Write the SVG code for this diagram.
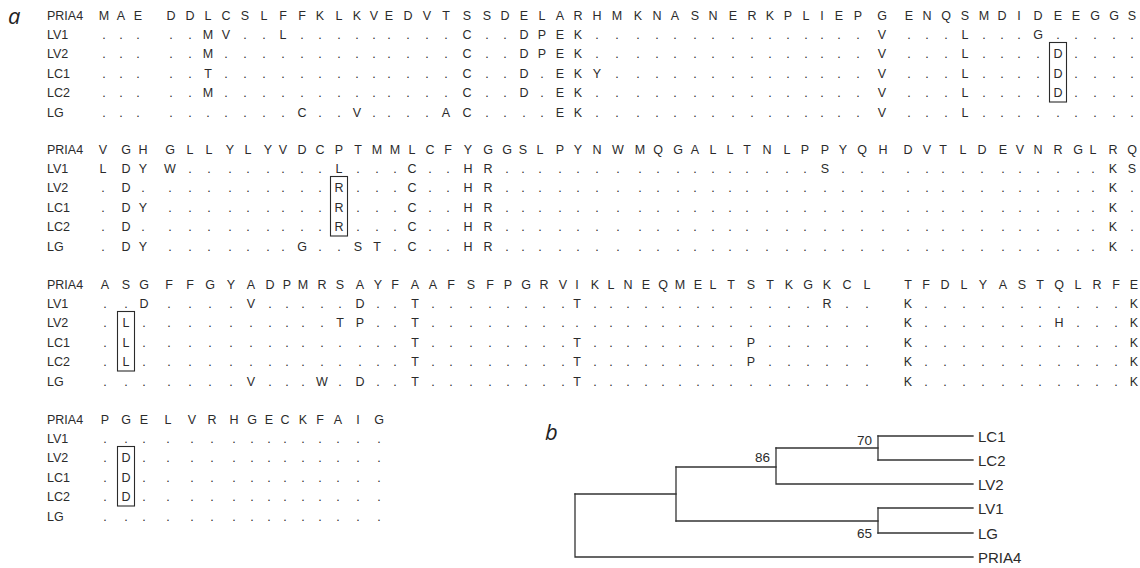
<svg xmlns="http://www.w3.org/2000/svg" width="1140" height="568" viewBox="0 0 1140 568">
<style>
.seq{font-family:"Liberation Sans",Arial,sans-serif;font-size:12.5px;fill:#2b2b2b;text-anchor:middle}
.lbl{font-family:"Liberation Sans",Arial,sans-serif;font-size:12.5px;fill:#2b2b2b}
.box{fill:none;stroke:#2b2b2b;stroke-width:1.1}
.blk{opacity:0.995}
.panel{font-family:"Open Sans","Noto Sans",sans-serif;font-style:italic;font-size:22px;fill:#222}
.tree{stroke:#333;stroke-width:1.3;fill:none;stroke-linecap:square}
.leaf{font-family:"Liberation Sans",Arial,sans-serif;font-size:15px;fill:#2b2b2b}
.bs{font-family:"Liberation Sans",Arial,sans-serif;font-size:13.5px;fill:#2b2b2b;text-anchor:end}
</style>
<text class="panel" x="8" y="24">a</text>
<g id="block1" class="blk">
<text class="lbl" x="47" y="19.5">PRIA4</text>
<text class="lbl" x="47" y="38.5">LV1</text>
<text class="lbl" x="47" y="58">LV2</text>
<text class="lbl" x="47" y="77.5">LC1</text>
<text class="lbl" x="47" y="96.5">LC2</text>
<text class="lbl" x="47" y="116.5">LG</text>
<text class="seq" y="19.5" x="104 121 138 171 190 208 226 245 264 283 302 320 339 357 374 389 408 427 446 467 487 505 524 542 560 578 597 617 638 657 675 695 713 733 752 770 788 806 822 839 858 882 909 927 946 965 984 1002 1019 1038 1058 1076 1095 1114 1132">MAEDDLCSLFFKLKVEDVTSSDELARHMKNASNERKPLIEPGENQSMDIDEEGGS</text>
<text class="seq" y="38.5" x="104 121 138 171 190 208 226 245 264 283 302 320 339 357 374 389 408 427 446 467 487 505 524 542 560 578 597 617 638 657 675 695 713 733 752 770 788 806 822 839 858 882 909 927 946 965 984 1002 1019 1038 1058 1076 1095 1114 1132">.....MV..L.........C..DPEK...............V...L...G.....</text>
<text class="seq" y="58" x="104 121 138 171 190 208 226 245 264 283 302 320 339 357 374 389 408 427 446 467 487 505 524 542 560 578 597 617 638 657 675 695 713 733 752 770 788 806 822 839 858 882 909 927 946 965 984 1002 1019 1038 1058 1076 1095 1114 1132">.....M.............C..DPEK...............V...L....D....</text>
<text class="seq" y="77.5" x="104 121 138 171 190 208 226 245 264 283 302 320 339 357 374 389 408 427 446 467 487 505 524 542 560 578 597 617 638 657 675 695 713 733 752 770 788 806 822 839 858 882 909 927 946 965 984 1002 1019 1038 1058 1076 1095 1114 1132">.....T.............C..D.EKY..............V...L....D....</text>
<text class="seq" y="96.5" x="104 121 138 171 190 208 226 245 264 283 302 320 339 357 374 389 408 427 446 467 487 505 524 542 560 578 597 617 638 657 675 695 713 733 752 770 788 806 822 839 858 882 909 927 946 965 984 1002 1019 1038 1058 1076 1095 1114 1132">.....M.............C..D.EK...............V...L....D....</text>
<text class="seq" y="116.5" x="104 121 138 171 190 208 226 245 264 283 302 320 339 357 374 389 408 427 446 467 487 505 524 542 560 578 597 617 638 657 675 695 713 733 752 770 788 806 822 839 858 882 909 927 946 965 984 1002 1019 1038 1058 1076 1095 1114 1132">..........C..V....AC....EK...............V...L.........</text>
<rect class="box" x="1049.5" y="42.5" width="17" height="59.5"/>
</g>
<g id="block2" class="blk">
<text class="lbl" x="47" y="153.5">PRIA4</text>
<text class="lbl" x="47" y="172.5">LV1</text>
<text class="lbl" x="47" y="192">LV2</text>
<text class="lbl" x="47" y="211.5">LC1</text>
<text class="lbl" x="47" y="230.5">LC2</text>
<text class="lbl" x="47" y="250.5">LG</text>
<text class="seq" y="153.5" x="103 126 143 170 190 209 230 248 268 283 302 320 339 358 377 395 412 430 448 468 488 507 523 540 560 578 597 618 640 658 678 695 713 730 747 767 787 805 825 843 862 883 908 927 943 963 982 1003 1020 1038 1058 1078 1093 1113 1132">VGHGLLYLYVDCPTMMLCFYGGSLPYNWMQGALLTNLPPYQHDVTLDEVNRGLRQ</text>
<text class="seq" y="172.5" x="103 126 143 170 190 209 230 248 268 283 302 320 339 358 377 395 412 430 448 468 488 507 523 540 560 578 597 618 640 658 678 695 713 730 747 767 787 805 825 843 862 883 908 927 943 963 982 1003 1020 1038 1058 1078 1093 1113 1132">LDYW........L...C..HR.................S..............KS</text>
<text class="seq" y="192" x="103 126 143 170 190 209 230 248 268 283 302 320 339 358 377 395 412 430 448 468 488 507 523 540 560 578 597 618 640 658 678 695 713 730 747 767 787 805 825 843 862 883 908 927 943 963 982 1003 1020 1038 1058 1078 1093 1113 1132">.D..........R...C..HR................................K.</text>
<text class="seq" y="211.5" x="103 126 143 170 190 209 230 248 268 283 302 320 339 358 377 395 412 430 448 468 488 507 523 540 560 578 597 618 640 658 678 695 713 730 747 767 787 805 825 843 862 883 908 927 943 963 982 1003 1020 1038 1058 1078 1093 1113 1132">.DY.........R...C..HR................................K.</text>
<text class="seq" y="230.5" x="103 126 143 170 190 209 230 248 268 283 302 320 339 358 377 395 412 430 448 468 488 507 523 540 560 578 597 618 640 658 678 695 713 730 747 767 787 805 825 843 862 883 908 927 943 963 982 1003 1020 1038 1058 1078 1093 1113 1132">.D..........R...C..HR................................K.</text>
<text class="seq" y="250.5" x="103 126 143 170 190 209 230 248 268 283 302 320 339 358 377 395 412 430 448 468 488 507 523 540 560 578 597 618 640 658 678 695 713 730 747 767 787 805 825 843 862 883 908 927 943 963 982 1003 1020 1038 1058 1078 1093 1113 1132">.DY.......G..ST.C..HR................................K.</text>
<rect class="box" x="330.5" y="176.5" width="17" height="59.5"/>
</g>
<g id="block3" class="blk">
<text class="lbl" x="47" y="288.5">PRIA4</text>
<text class="lbl" x="47" y="307.5">LV1</text>
<text class="lbl" x="47" y="327">LV2</text>
<text class="lbl" x="47" y="346.5">LC1</text>
<text class="lbl" x="47" y="365.5">LC2</text>
<text class="lbl" x="47" y="385.5">LG</text>
<text class="seq" y="288.5" x="105 126 144 169 190 210 231 251 270 287 303 322 340 360 378 395 415 433 451 471 490 508 526 544 563 577 595 611 628 646 663 680 698 713 731 751 770 789 808 827 847 867 908 926 945 964 983 1003 1022 1040 1059 1078 1097 1116 1134">ASGFFGYADPMRSAYFAAFSFPGRVIKLNEQMELTSTKGKCLTFDLYASTQLRFE</text>
<text class="seq" y="307.5" x="105 126 144 169 190 210 231 251 270 287 303 322 340 360 378 395 415 433 451 471 490 508 526 544 563 577 595 611 628 646 663 680 698 713 731 751 770 789 808 827 847 867 908 926 945 964 983 1003 1022 1040 1059 1078 1097 1116 1134">..D....V.....D..T........T.............R..K...........K</text>
<text class="seq" y="327" x="105 126 144 169 190 210 231 251 270 287 303 322 340 360 378 395 415 433 451 471 490 508 526 544 563 577 595 611 628 646 663 680 698 713 731 751 770 789 808 827 847 867 908 926 945 964 983 1003 1022 1040 1059 1078 1097 1116 1134">.L..........TP..T.........................K.......H...K</text>
<text class="seq" y="346.5" x="105 126 144 169 190 210 231 251 270 287 303 322 340 360 378 395 415 433 451 471 490 508 526 544 563 577 595 611 628 646 663 680 698 713 731 751 770 789 808 827 847 867 908 926 945 964 983 1003 1022 1040 1059 1078 1097 1116 1134">.L..............T........T.........P......K...........K</text>
<text class="seq" y="365.5" x="105 126 144 169 190 210 231 251 270 287 303 322 340 360 378 395 415 433 451 471 490 508 526 544 563 577 595 611 628 646 663 680 698 713 731 751 770 789 808 827 847 867 908 926 945 964 983 1003 1022 1040 1059 1078 1097 1116 1134">.L..............T........T.........P......K...........K</text>
<text class="seq" y="385.5" x="105 126 144 169 190 210 231 251 270 287 303 322 340 360 378 395 415 433 451 471 490 508 526 544 563 577 595 611 628 646 663 680 698 713 731 751 770 789 808 827 847 867 908 926 945 964 983 1003 1022 1040 1059 1078 1097 1116 1134">.......V...W.D..T........T................K...........K</text>
<rect class="box" x="117.5" y="311.5" width="17" height="59.5"/>
</g>
<g id="block4" class="blk">
<text class="lbl" x="47" y="423.5">PRIA4</text>
<text class="lbl" x="47" y="442.5">LV1</text>
<text class="lbl" x="47" y="462">LV2</text>
<text class="lbl" x="47" y="481.5">LC1</text>
<text class="lbl" x="47" y="500.5">LC2</text>
<text class="lbl" x="47" y="520.5">LG</text>
<text class="seq" y="423.5" x="105 126 144 168 192 212 234 252 269 285 303 320 338 358 379">PGELVRHGECKFAIG</text>
<text class="seq" y="442.5" x="105 126 144 168 192 212 234 252 269 285 303 320 338 358 379">...............</text>
<text class="seq" y="462" x="105 126 144 168 192 212 234 252 269 285 303 320 338 358 379">.D.............</text>
<text class="seq" y="481.5" x="105 126 144 168 192 212 234 252 269 285 303 320 338 358 379">.D.............</text>
<text class="seq" y="500.5" x="105 126 144 168 192 212 234 252 269 285 303 320 338 358 379">.D.............</text>
<text class="seq" y="520.5" x="105 126 144 168 192 212 234 252 269 285 303 320 338 358 379">...............</text>
<rect class="box" x="117.5" y="446.5" width="17" height="59.5"/>
</g>
<text class="panel" x="545" y="440">b</text>
<g id="connectors">
<path class="tree" d="M575 494V557H973"/>
<path class="tree" d="M575 494H676"/>
<path class="tree" d="M676 467V521"/>
<path class="tree" d="M676 467H776"/>
<path class="tree" d="M776 448V484H973"/>
<path class="tree" d="M776 448H878"/>
<path class="tree" d="M878 436V460"/>
<path class="tree" d="M878 436H973"/>
<path class="tree" d="M878 460H973"/>
<path class="tree" d="M676 521H878"/>
<path class="tree" d="M878 508V533"/>
<path class="tree" d="M878 508H973"/>
<path class="tree" d="M878 533H973"/>
</g>
<g id="node70"><text class="bs" x="872" y="445">70</text></g>
<g id="node86"><text class="bs" x="770" y="462">86</text></g>
<g id="node65"><text class="bs" x="872" y="538">65</text></g>
<g id="leaf-LC1"><text class="leaf" x="978" y="441.5">LC1</text></g>
<g id="leaf-LC2"><text class="leaf" x="978" y="465.5">LC2</text></g>
<g id="leaf-LV2"><text class="leaf" x="978" y="489.5">LV2</text></g>
<g id="leaf-LV1"><text class="leaf" x="978" y="513.5">LV1</text></g>
<g id="leaf-LG"><text class="leaf" x="978" y="538.5">LG</text></g>
<g id="leaf-PRIA4"><text class="leaf" x="978" y="562.5">PRIA4</text></g>
</svg>
